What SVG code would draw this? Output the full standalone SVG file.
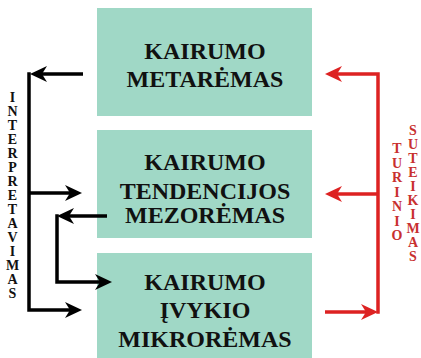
<svg xmlns="http://www.w3.org/2000/svg" width="421" height="358" viewBox="0 0 421 358">
<style>
.box{fill:#a0d8c6}
text{font-family:"Liberation Serif","Times New Roman",serif;font-weight:bold}
.t{font-size:24px;fill:#111;text-anchor:middle}
.v{font-size:14px;text-anchor:middle}
.vk{fill:#111}
.vr{fill:#c8302f}
.k{fill:none;stroke:#000;stroke-width:3.5}
.r{fill:none;stroke:#dd2222;stroke-width:3.5}
</style>
<defs>
<marker id="ak" markerUnits="userSpaceOnUse" markerWidth="20" markerHeight="18" viewBox="0 -9 20 18" refX="6" refY="0" orient="auto">
<path d="M0,-8 L17,0 L0,8 L5,0 Z" fill="#000"/>
</marker>
<marker id="ar" markerUnits="userSpaceOnUse" markerWidth="20" markerHeight="18" viewBox="0 -9 20 18" refX="6" refY="0" orient="auto">
<path d="M0,-8 L17,0 L0,8 L5,0 Z" fill="#dd2222"/>
</marker>
</defs>
<g id="meta">
<rect class="box" x="97" y="8" width="215" height="108"/>
<text class="t" x="205" y="59">KAIRUMO</text>
<text class="t" x="205" y="87">METARĖMAS</text>
</g>
<g id="mezo">
<rect class="box" x="97" y="130" width="215" height="108"/>
<text class="t" x="205" y="170">KAIRUMO</text>
<text class="t" x="205" y="199">TENDENCIJOS</text>
<text class="t" x="205" y="223">MEZORĖMAS</text>
</g>
<g id="mikro">
<rect class="box" x="97" y="253" width="215" height="105"/>
<text class="t" x="205" y="290">KAIRUMO</text>
<text class="t" x="205" y="318">ĮVYKIO</text>
<text class="t" x="205" y="347">MIKRORĖMAS</text>
</g>
<g id="connectors">
<path class="k" d="M83,74 H41" marker-end="url(#ak)"/>
<path class="k" d="M29,72.25 V310 H71" marker-end="url(#ak)"/>
<path class="k" d="M29,193 H71" marker-end="url(#ak)"/>
<path class="k" d="M107,216 H68" marker-end="url(#ak)"/>
<path class="k" d="M57,214.25 V282 H101" marker-end="url(#ak)"/>
<path class="r" d="M378,313.75 V74 H336" marker-end="url(#ar)"/>
<path class="r" d="M378,194 H336" marker-end="url(#ar)"/>
<path class="r" d="M325,312 H367" marker-end="url(#ar)"/>
</g>
<g id="labels">
<text class="v vk" x="12.5"><tspan x="12.5" y="102">I</tspan><tspan x="12.5" y="116">N</tspan><tspan x="12.5" y="130">T</tspan><tspan x="12.5" y="144">E</tspan><tspan x="12.5" y="158">R</tspan><tspan x="12.5" y="172">P</tspan><tspan x="12.5" y="186">R</tspan><tspan x="12.5" y="200">E</tspan><tspan x="12.5" y="214">T</tspan><tspan x="12.5" y="228">A</tspan><tspan x="12.5" y="242">V</tspan><tspan x="12.5" y="256">I</tspan><tspan x="12.5" y="270">M</tspan><tspan x="12.5" y="284">A</tspan><tspan x="12.5" y="298">S</tspan></text>
<text class="v vr" x="397"><tspan x="397" y="153">T</tspan><tspan x="397" y="167.5">U</tspan><tspan x="397" y="182">R</tspan><tspan x="397" y="196.5">I</tspan><tspan x="397" y="211">N</tspan><tspan x="397" y="225.5">I</tspan><tspan x="397" y="240">O</tspan></text>
<text class="v vr" x="413"><tspan x="413" y="135">S</tspan><tspan x="413" y="149">U</tspan><tspan x="413" y="163">T</tspan><tspan x="413" y="177">E</tspan><tspan x="413" y="191">I</tspan><tspan x="413" y="205">K</tspan><tspan x="413" y="219">I</tspan><tspan x="413" y="233">M</tspan><tspan x="413" y="247">A</tspan><tspan x="413" y="261">S</tspan></text>
</g>
</svg>
